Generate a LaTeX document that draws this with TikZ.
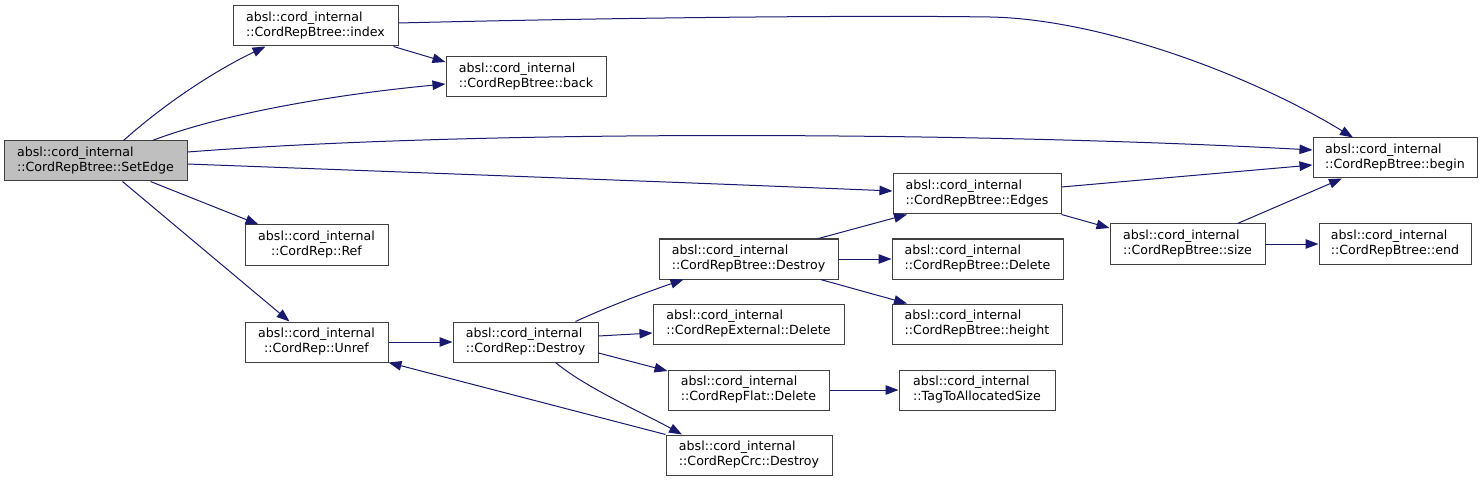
\documentclass[tikz,border=0pt]{standalone}
\usepackage{fontspec}
\newfontfamily\dfont{DejaVu Sans}
\usetikzlibrary{arrows.meta}
\definecolor{edgecol}{HTML}{191970}
\definecolor{boxline}{HTML}{404040}
\definecolor{rootfill}{HTML}{BFBFBF}
\tikzset{
  box/.style={draw=boxline, line width=1pt, fill=white, inner sep=0pt, align=left,
    font={\dfont\fontsize{12.6}{15}\selectfont}},
  cbox/.style={box, align=center},
  call/.style={draw=edgecol, line width=1pt, -{Triangle[length=13pt,width=9.5pt]}, arrows={[fill=edgecol]}}
}
\begin{document}
\begin{tikzpicture}[x=1pt,y=-1pt]
\useasboundingbox (0,0) rectangle (1483,481);
\fill[white] (0,0) rectangle (1483,481);
% nodes
\node[box, fill=rootfill, minimum width=183pt, minimum height=40pt] (SetEdge) at (95.5,161) {absl::cord\_internal\\::CordRepBtree::SetEdge};
\node[box, minimum width=165pt, minimum height=40pt] (index) at (315.5,26) {absl::cord\_internal\\::CordRepBtree::index};
\node[box, minimum width=160pt, minimum height=40pt] (back) at (526,77) {absl::cord\_internal\\::CordRepBtree::back};
\node[cbox, minimum width=143pt, minimum height=40pt] (Ref) at (316.5,245) {absl::cord\_internal\\::CordRep::Ref};
\node[cbox, minimum width=143pt, minimum height=40pt] (Unref) at (316.5,342) {absl::cord\_internal\\::CordRep::Unref};
\node[box, minimum width=145pt, minimum height=40pt] (RDestroy) at (525.5,342) {absl::cord\_internal\\::CordRep::Destroy};
\node[box, minimum width=179pt, minimum height=40pt] (BDestroy) at (748.5,259) {absl::cord\_internal\\::CordRepBtree::Destroy};
\node[box, minimum width=168pt, minimum height=40pt] (Edges) at (977,194) {absl::cord\_internal\\::CordRepBtree::Edges};
\node[box, minimum width=171pt, minimum height=40pt] (BDelete) at (977.5,259) {absl::cord\_internal\\::CordRepBtree::Delete};
\node[box, minimum width=170pt, minimum height=40pt] (height) at (977,324) {absl::cord\_internal\\::CordRepBtree::height};
\node[box, minimum width=191pt, minimum height=40pt] (ExtDelete) at (748.5,324) {absl::cord\_internal\\::CordRepExternal::Delete};
\node[box, minimum width=161pt, minimum height=40pt] (FlatDelete) at (748.5,390) {absl::cord\_internal\\::CordRepFlat::Delete};
\node[box, minimum width=156pt, minimum height=40pt] (Tag) at (977,390) {absl::cord\_internal\\::TagToAllocatedSize};
\node[box, minimum width=166pt, minimum height=40pt] (Crc) at (749,455) {absl::cord\_internal\\::CordRepCrc::Destroy};
\node[box, minimum width=164pt, minimum height=40pt] (begin) at (1395,158) {absl::cord\_internal\\::CordRepBtree::begin};
\node[box, minimum width=155pt, minimum height=40pt] (size) at (1187.5,244) {absl::cord\_internal\\::CordRepBtree::size};
\node[box, minimum width=152pt, minimum height=40pt] (end) at (1395,244) {absl::cord\_internal\\::CordRepBtree::end};
\coordinate (w1) at (990,17);
% connectors
\draw[call] ([xshift=28pt]SetEdge.north) .. controls +(46,-41) and +(-46,22) .. ([xshift=-50pt]index.south);
\draw[call] ([xshift=57pt]SetEdge.north) .. controls +(68,-26) and +(-116,11) .. ([yshift=-7pt]back.west);
\draw[call] ([yshift=9pt]SetEdge.east) .. controls +(313,-24) and +(-313,-17) .. ([yshift=8pt]begin.west);
\draw[call] ([yshift=-3pt]SetEdge.east) .. controls +(213,8) and +(-193,-8) .. ([yshift=3pt]Edges.west);
\draw[call] ([xshift=55pt]SetEdge.south) -- ([xshift=-58pt]Ref.north);
\draw[call] ([xshift=27pt]SetEdge.south) -- ([xshift=-27pt]Unref.north);
\draw[call] ([xshift=-5pt]index.south east) -- ([yshift=15pt]back.west);
\draw[call] ([yshift=3pt]index.east) .. controls +(202,-5) and +(-140,-2) .. (w1) .. controls +(110,2) and +(-103,-63) .. ([xshift=-42pt]begin.north);
\draw[call] ([yshift=7pt]Edges.east) -- ([yshift=-7pt]begin.west);
\draw[call] (Edges.south east) -- ([yshift=16pt]size.west);
\draw[call] ([xshift=50pt]size.north) -- ([xshift=-53pt]begin.south);
\draw[call] (size.east) -- (end.west);
\draw[call] (Unref.east) -- (RDestroy.west);
\draw[call] ([xshift=50pt]RDestroy.north) .. controls +(35,-16) and +(-35,12) .. ([xshift=-65pt]BDestroy.south);
\draw[call] ([yshift=6pt]RDestroy.east) -- ([yshift=-9pt]ExtDelete.west);
\draw[call] ([yshift=-11pt]RDestroy.east) -- ([yshift=19pt]FlatDelete.west);
\draw[call] ([xshift=30pt]RDestroy.south) .. controls +(30,25) and +(-40,-22) .. ([xshift=-67pt]Crc.north);
\draw[call] (Crc.north west) -- (Unref.south east);
\draw[call] ([xshift=70pt]BDestroy.north) -- ([xshift=-70pt]Edges.south);
\draw[call] (BDestroy.east) -- (BDelete.west);
\draw[call] ([xshift=72pt]BDestroy.south) -- ([xshift=-70pt]height.north);
\draw[call] (FlatDelete.east) -- (Tag.west);
\end{tikzpicture}
\end{document}
